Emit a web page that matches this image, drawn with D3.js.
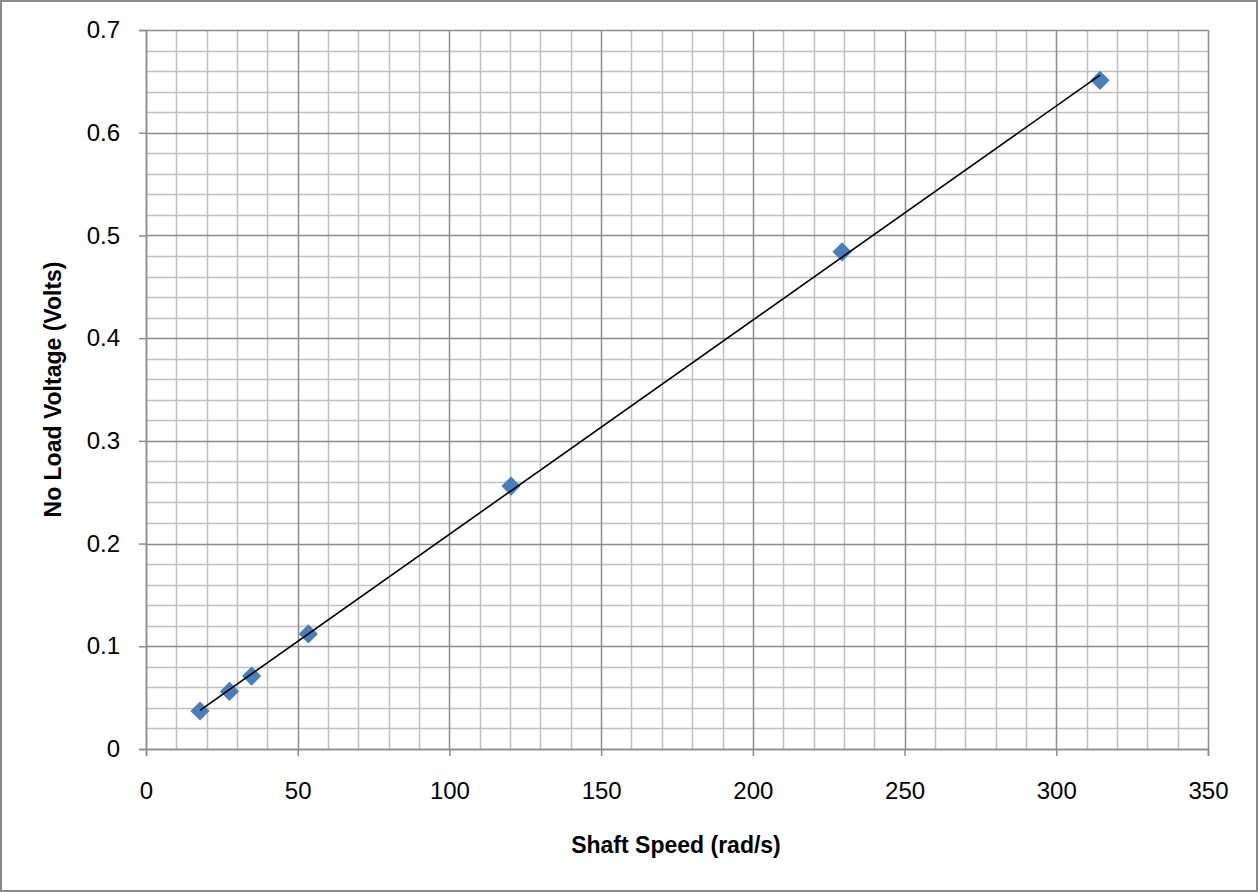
<!DOCTYPE html>
<html><head><meta charset="utf-8">
<script src="https://cdn.jsdelivr.net/npm/d3@7"></script>
<style>body{margin:0;background:#fff}svg{display:block}</style>
</head><body>
<script>
const speed = [17.8, 27.5, 34.8, 53.5, 120.3, 229.4, 314.4];
const voltage = [0.037, 0.056, 0.071, 0.112, 0.256, 0.484, 0.651];
const xTicks = [0, 50, 100, 150, 200, 250, 300, 350];
const yTicks = [0, 0.1, 0.2, 0.3, 0.4, 0.5, 0.6, 0.7];
const xTitle = "Shaft Speed (rad/s)";
const yTitle = "No Load Voltage (Volts)";

const W = 1258, H = 892;
const m = {left:146, top:30, right:1208, bottom:749};
const svg = d3.select("body").append("svg").attr("width", W).attr("height", H);
svg.append("rect").attr("x",1).attr("y",1).attr("width",W-2).attr("height",H-2)
  .attr("fill","#fff").attr("stroke","#898989").attr("stroke-width",2);

const x = d3.scaleLinear().domain([0,350]).range([m.left, m.right]);
const y = d3.scaleLinear().domain([0,0.7]).range([m.bottom, m.top]);

const font = "'Liberation Sans', Arial, sans-serif";
// minor grid
const xMinor = d3.range(0, 351, 10).filter(v => v % 50 !== 0);
const yMinor = d3.range(0, 36).map(i => i*0.02).filter((v,i) => i % 5 !== 0);
const g = svg.append("g");
g.selectAll(".xm").data(xMinor).join("line")
  .attr("x1", d=>Math.round(x(d))+0.5).attr("x2", d=>Math.round(x(d))+0.5)
  .attr("y1", m.top).attr("y2", m.bottom).attr("stroke","#bfbfbf").attr("stroke-width",1.5);
g.selectAll(".ym").data(yMinor).join("line")
  .attr("y1", d=>Math.round(y(d))+0.5).attr("y2", d=>Math.round(y(d))+0.5)
  .attr("x1", m.left).attr("x2", m.right).attr("stroke","#bfbfbf").attr("stroke-width",1.5);
// major grid
g.selectAll(".xM").data(xTicks).join("line")
  .attr("x1", d=>Math.round(x(d))+0.5).attr("x2", d=>Math.round(x(d))+0.5)
  .attr("y1", m.top).attr("y2", m.bottom).attr("stroke","#8c8c8c").attr("stroke-width",1.5);
g.selectAll(".yM").data(yTicks).join("line")
  .attr("y1", d=>Math.round(y(d))+0.5).attr("y2", d=>Math.round(y(d))+0.5)
  .attr("x1", m.left).attr("x2", m.right).attr("stroke","#8c8c8c").attr("stroke-width",1.5);

// axes
const xAxis = d3.axisBottom(x).tickValues(xTicks).tickSize(7).tickPadding(26).tickFormat(d3.format("d"));
const yAxis = d3.axisLeft(y).tickValues(yTicks).tickSize(7).tickPadding(19).tickFormat(d => d===0 ? "0" : d3.format(".1f")(d));
const ga = svg.append("g").attr("transform",`translate(0,${m.bottom})`).call(xAxis);
const gb = svg.append("g").attr("transform",`translate(${m.left},0)`).call(yAxis);
[ga, gb].forEach(a => {
  a.select(".domain").attr("stroke","#8c8c8c").attr("stroke-width",1.5);
  a.selectAll(".tick line").attr("stroke","#8c8c8c").attr("stroke-width",1.5);
  a.selectAll(".tick text").attr("fill","#000").style("font-family",font).style("font-size","24px");
});

// markers
const sym = d3.symbol().type(d3.symbolSquare).size(185);
svg.selectAll(".pt").data(speed).join("path")
  .attr("d", sym)
  .attr("transform", (d,i)=>`translate(${x(d)},${y(voltage[i])}) rotate(45)`)
  .attr("fill","#4a7ebb");

// trendline (least squares over the data), drawn over the markers
const mx = d3.mean(speed), my = d3.mean(voltage);
const slope = d3.sum(speed.map((s,i)=>(s-mx)*(voltage[i]-my))) / d3.sum(speed.map(s=>(s-mx)**2));
const icpt = my - slope*mx;
const ext = d3.extent(speed);
svg.append("line").attr("x1", x(ext[0])).attr("y1", y(icpt+slope*ext[0]))
  .attr("x2", x(ext[1])).attr("y2", y(icpt+slope*ext[1]))
  .attr("stroke","#000").attr("stroke-width",1.6);

// titles
svg.append("text").attr("x", 676).attr("y", 853).attr("text-anchor","middle")
  .style("font-family",font).style("font-size","23px").style("font-weight","bold").text(xTitle);
svg.append("text").attr("transform",`translate(61,${(m.top+m.bottom)/2}) rotate(-90)`).attr("text-anchor","middle")
  .style("font-family",font).style("font-size","23px").style("font-weight","bold").text(yTitle);
</script>
</body></html>
